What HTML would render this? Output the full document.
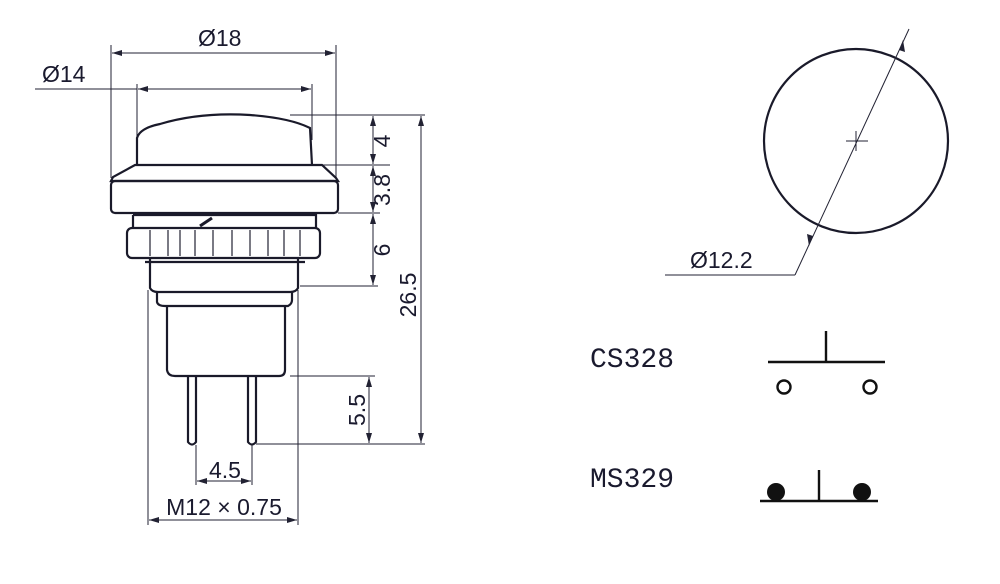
<!DOCTYPE html>
<html><head><meta charset="utf-8"><style>
html,body{margin:0;padding:0;background:#fff;}
svg{display:block;}
text{font-family:"Liberation Sans",sans-serif;fill:#1a1a2e;}
.m{font-family:"Liberation Mono",monospace;}
</style></head><body>
<svg width="1000" height="584" viewBox="0 0 1000 584" xmlns="http://www.w3.org/2000/svg">
<defs>
<marker id="a" viewBox="0 0 10 6" refX="10" refY="3" markerWidth="10" markerHeight="6" orient="auto-start-reverse" markerUnits="userSpaceOnUse"><path d="M0,0L10,3L0,6z" fill="#223"/></marker>
</defs>
<g stroke="#223" fill="none" stroke-width="1">
<line x1="111" y1="45" x2="111" y2="178"/>
<line x1="336" y1="45" x2="336" y2="178"/>
<line x1="112" y1="53" x2="335" y2="53" marker-start="url(#a)" marker-end="url(#a)"/>
<line x1="35" y1="89" x2="137" y2="89"/>
<line x1="138" y1="89" x2="311" y2="89" marker-start="url(#a)" marker-end="url(#a)"/>
<line x1="137" y1="84" x2="137" y2="140"/>
<line x1="312" y1="84" x2="312" y2="140"/>
<line x1="290" y1="115" x2="425" y2="115"/>
<line x1="320" y1="165" x2="390" y2="165"/>
<line x1="338" y1="213" x2="380" y2="213"/>
<line x1="300" y1="286" x2="378" y2="286"/>
<line x1="373" y1="116" x2="373" y2="164" marker-start="url(#a)" marker-end="url(#a)"/>
<line x1="373" y1="166" x2="373" y2="212" marker-start="url(#a)" marker-end="url(#a)"/>
<line x1="373" y1="214" x2="373" y2="285" marker-start="url(#a)" marker-end="url(#a)"/>
<line x1="421" y1="116" x2="421" y2="443" marker-start="url(#a)" marker-end="url(#a)"/>
<line x1="290" y1="376" x2="375" y2="376"/>
<line x1="256" y1="444" x2="425" y2="444"/>
<line x1="369" y1="377" x2="369" y2="443" marker-start="url(#a)" marker-end="url(#a)"/>
<line x1="196" y1="445" x2="196" y2="485"/>
<line x1="252" y1="445" x2="252" y2="485"/>
<line x1="197" y1="481" x2="251" y2="481" marker-start="url(#a)" marker-end="url(#a)"/>
<line x1="148" y1="290" x2="148" y2="525"/>
<line x1="298" y1="290" x2="298" y2="525"/>
<line x1="149" y1="520" x2="297" y2="520" marker-start="url(#a)" marker-end="url(#a)"/>
</g>
<g stroke="#1a1a2a" fill="none" stroke-width="2.2">
<path d="M137,165 L137,138 Q140,128 160,124 Q200,112 250,115 Q290,118 310,128 L312,165"/>
<path d="M135,165 L322,165 L336,178 L338,181 L111,181 L113,177 Z"/>
<rect x="111" y="181" width="227" height="32" rx="4"/>
<path d="M133,215 L316,215 L316,228 M133,215 L133,228"/>
<rect x="127" y="228" width="193" height="30" rx="5"/>
<path d="M150,258 L150,288 Q152,292 158,292 L290,292 Q296,292 298,288 L298,258"/>
<path d="M157,292 L157,302 Q158,306 165,306 L288,306 Q292,304 292,300 L292,292"/>
<path d="M167,306 L167,370 Q168,376 175,376 L279,376 Q285,376 285,370 L285,306"/>
<line x1="145" y1="262" x2="305" y2="262"/>
<path d="M188,376 L188,442 Q192,447 196,442 L196,376"/>
<path d="M248,376 L248,442 Q252,447 256,442 L256,376"/>
<path d="M200,226 L212,218" stroke-width="3"/>
</g>
<g stroke="#223" stroke-width="1.2">
<line x1="150" y1="230" x2="150" y2="256"/><line x1="168" y1="230" x2="168" y2="256"/><line x1="180" y1="230" x2="180" y2="256"/><line x1="195" y1="230" x2="195" y2="256"/><line x1="213" y1="230" x2="213" y2="256"/><line x1="232" y1="230" x2="232" y2="256"/><line x1="250" y1="230" x2="250" y2="256"/><line x1="268" y1="230" x2="268" y2="256"/><line x1="284" y1="230" x2="284" y2="256"/><line x1="300" y1="230" x2="300" y2="256"/>
</g>
<text x="198" y="46" font-size="23">Ø18</text>
<text x="42" y="82" font-size="23">Ø14</text>
<text x="225" y="478" font-size="23" text-anchor="middle">4.5</text>
<text x="224" y="515" font-size="23" text-anchor="middle">M12 × 0.75</text>
<text font-size="23" transform="translate(390,141) rotate(-90)" text-anchor="middle">4</text>
<text font-size="23" transform="translate(390,190) rotate(-90)" text-anchor="middle">3.8</text>
<text font-size="23" transform="translate(390,250) rotate(-90)" text-anchor="middle">6</text>
<text font-size="23" transform="translate(416,295) rotate(-90)" text-anchor="middle">26.5</text>
<text font-size="23" transform="translate(365,410) rotate(-90)" text-anchor="middle">5.5</text>
<circle cx="856" cy="141" r="92" fill="none" stroke="#1a1a2a" stroke-width="2.2"/>
<g stroke="#223" stroke-width="1" fill="none">
<line x1="909" y1="29" x2="795" y2="275"/>
<line x1="795" y1="275" x2="665" y2="275"/>
<line x1="846" y1="141" x2="868" y2="141"/>
<line x1="856" y1="131" x2="856" y2="151"/>
</g>
<path d="M899,50 L903,40 L905,52 Z" fill="#223"/>
<path d="M813,236 L809,246 L807,234 Z" fill="#223"/>
<text x="690" y="268" font-size="23">Ø12.2</text>
<text x="590" y="367" font-size="28" class="m">CS328</text>
<text x="590" y="487" font-size="28" class="m">MS329</text>
<g stroke="#111" stroke-width="2.4" fill="none">
<line x1="768" y1="362" x2="885" y2="362"/>
<line x1="826" y1="331" x2="826" y2="362"/>
<circle cx="784" cy="387" r="6.5"/>
<circle cx="870" cy="387" r="6.5"/>
<line x1="760" y1="501" x2="878" y2="501"/>
<line x1="819" y1="470" x2="819" y2="501"/>
</g>
<circle cx="776" cy="492" r="9" fill="#111"/>
<circle cx="862" cy="492" r="9" fill="#111"/>
</svg>
</body></html>
